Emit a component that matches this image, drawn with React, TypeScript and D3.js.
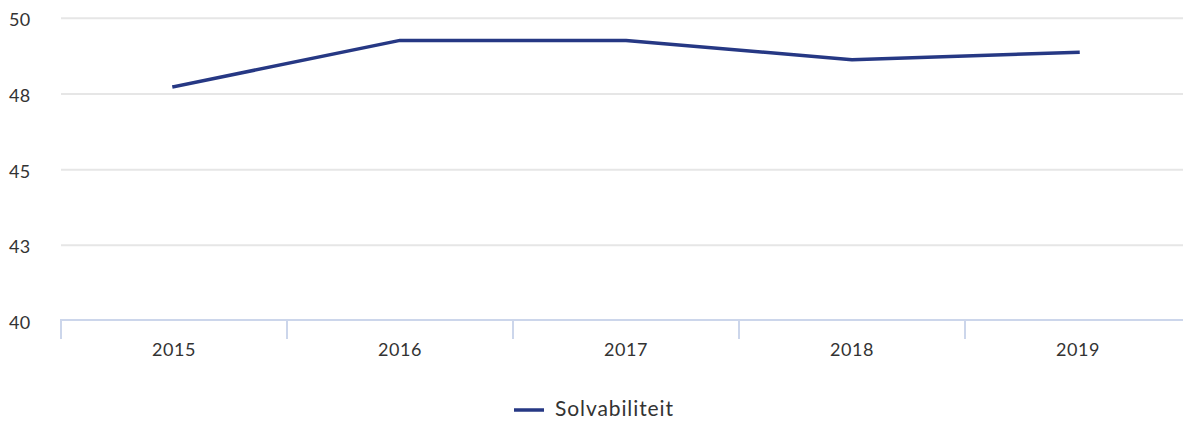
import React from "react";
import * as d3 from "d3";

const categories: string[] = ["2015", "2016", "2017", "2018", "2019"];
const solvabiliteit: number[] = [47.74, 49.27, 49.27, 48.63, 48.88];
const yTicks: number[] = [40, 42.5, 45, 47.5, 50];
const seriesName = "Solvabiliteit";

const W = 1183;
const H = 421;
const plotLeft = 61;
const plotRight = 1191;
const plotTop = 18.3;
const plotBottom = 321;
const lineColor = "#263884";
const textColor = "#333333";
const font = "Lato, 'Open Sans', sans-serif";

export default function App() {
  const x = d3.scaleBand<string>().domain(categories).range([plotLeft, plotRight]);
  const y = d3.scaleLinear().domain([40, 50]).range([plotBottom, plotTop]);
  const fmt = d3.format(".0f");
  const line = d3
    .line<number>()
    .x((_, i) => (x(categories[i]) as number) + x.bandwidth() / 2)
    .y((d) => y(d));
  const tickXs = categories.map((c) => x(c) as number);

  return (
    <div style={{ position: "absolute", left: 0, top: 0 }}>
      <svg width={W} height={H} style={{ display: "block", fontFamily: font }}>
        <rect width={W} height={H} fill="#ffffff" />
        {yTicks.slice(1).map((t) => (
          <line key={t} x1={plotLeft} x2={W} y1={y(t)} y2={y(t)} stroke="#e6e6e6" strokeWidth={2} />
        ))}
        {yTicks.map((t) => (
          <text key={t} x={9} y={y(t) + 8} fontSize={18} letterSpacing={0.4} fill={textColor}>
            {fmt(t)}
          </text>
        ))}
        <line x1={plotLeft - 1} x2={W} y1={320} y2={320} stroke="#ccd6eb" strokeWidth={2} />
        {tickXs.map((tx, i) => (
          <line key={i} x1={tx} x2={tx} y1={320} y2={339} stroke="#ccd6eb" strokeWidth={2} />
        ))}
        {categories.map((c) => (
          <text
            key={c}
            x={(x(c) as number) + x.bandwidth() / 2}
            y={356}
            fontSize={18}
            letterSpacing={0.6}
            textAnchor="middle"
            fill={textColor}
          >
            {c}
          </text>
        ))}
        <path
          d={line(solvabiliteit) || ""}
          fill="none"
          stroke={lineColor}
          strokeWidth={3.5}
          strokeLinejoin="round"
          strokeLinecap="square"
        />
        <line x1={514} x2={544} y1={410} y2={410} stroke={lineColor} strokeWidth={3.5} />
        <text x={555} y={416} fontSize={21} letterSpacing={0.9} fill={textColor}>
          {seriesName}
        </text>
      </svg>
    </div>
  );
}
